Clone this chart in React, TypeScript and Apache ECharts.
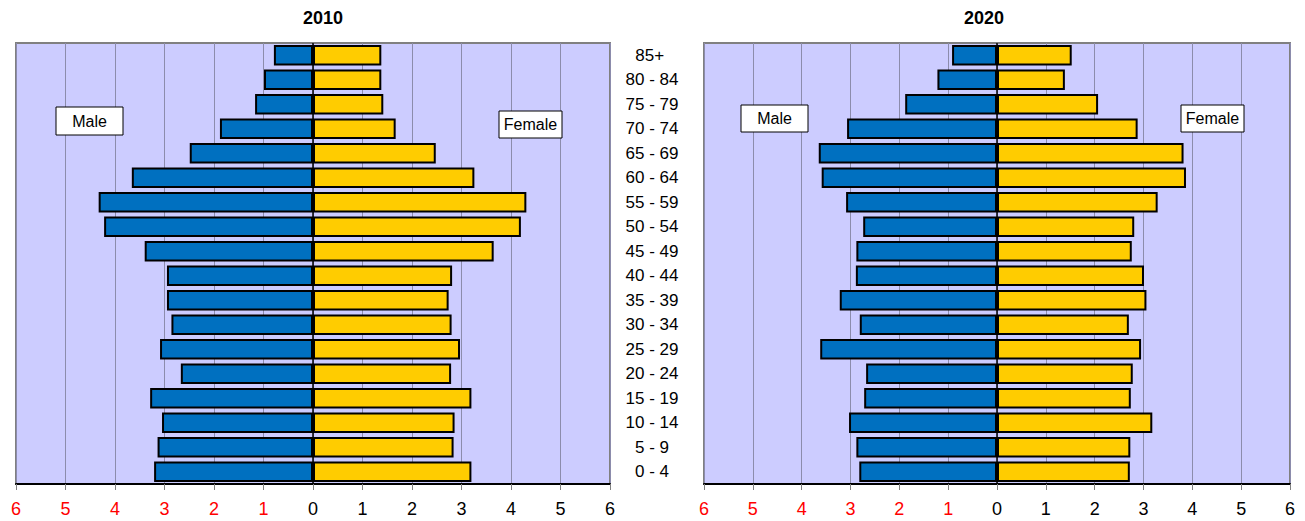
import React, { useEffect, useRef } from "react";
import * as echarts from "echarts";

const ageGroups = ["0 - 4", "5 - 9", "10 - 14", "15 - 19", "20 - 24", "25 - 29", "30 - 34", "35 - 39", "40 - 44", "45 - 49", "50 - 54", "55 - 59", "60 - 64", "65 - 69", "70 - 74", "75 - 79", "80 - 84", "85+ "];
const male2010 = [3.21, 3.14, 3.05, 3.29, 2.67, 3.09, 2.86, 2.95, 2.95, 3.40, 4.22, 4.33, 3.66, 2.49, 1.88, 1.17, 0.99, 0.79];
const female2010 = [3.20, 2.84, 2.86, 3.20, 2.79, 2.97, 2.80, 2.74, 2.81, 3.65, 4.20, 4.31, 3.26, 2.48, 1.67, 1.42, 1.38, 1.38];
const male2020 = [2.82, 2.88, 3.03, 2.72, 2.68, 3.62, 2.81, 3.22, 2.89, 2.88, 2.74, 3.09, 3.59, 3.65, 3.07, 1.88, 1.22, 0.92];
const female2020 = [2.72, 2.73, 3.18, 2.74, 2.78, 2.95, 2.70, 3.06, 3.01, 2.76, 2.81, 3.29, 3.87, 3.82, 2.88, 2.07, 1.39, 1.53];
const titles = ["2010", "2020"];
const maleLabel = "Male";
const femaleLabel = "Female";

const FONT = "'Liberation Sans', Arial, sans-serif";

export default function App() {
  const ref = useRef<HTMLDivElement>(null);
  useEffect(() => {
    if (!ref.current) return;
    const chart = echarts.init(ref.current, null, { renderer: "svg" });
    const grids = [
      { left: 16, top: 43, width: 594, height: 441 },
      { left: 704, top: 43, width: 586, height: 441 },
    ];
    const xAxis = grids.map((_, i) => ({
      type: "value",
      gridIndex: i,
      min: -6,
      max: 6,
      interval: 1,
      axisLine: { show: true, onZero: false, lineStyle: { color: "#000", width: 2 } },
      axisTick: { show: true, length: 6, lineStyle: { color: "#808080", width: 1 } },
      axisLabel: {
        margin: 16,
        fontSize: 18,
        fontFamily: FONT,
        color: (v: any) => (Number(v) < 0 ? "#ff0000" : "#000000"),
        formatter: (v: number) => String(Math.abs(v)),
      },
      splitLine: { show: true, lineStyle: { color: "#8c8cac", width: 1 } },
    }));
    const yAxis = grids.map((_, i) => ({
      type: "category",
      gridIndex: i,
      data: ageGroups,
      axisLine: { show: false, onZero: false },
      axisTick: { show: false },
      splitLine: { show: false },
      axisLabel: {
        show: i === 1,
        margin: 52,
        align: "center",
        fontSize: 17,
        fontFamily: FONT,
        color: "#000",
      },
    }));
    const mk = (name: string, data: number[], sign: number, color: string, idx: number, zero: boolean) => ({
      type: "bar",
      name,
      xAxisIndex: idx,
      yAxisIndex: idx,
      data: data.map((v) => v * sign),
      barCategoryGap: "16%",
      barGap: "-100%",
      itemStyle: { color, borderColor: "#000", borderWidth: 2 },
      z: 2,
      markLine: zero
        ? {
            silent: true,
            symbol: ["none", "none"],
            label: { show: false },
            lineStyle: { color: "#000", width: 1.5, type: "solid" },
            data: [{ xAxis: 0 }],
            z: 5,
          }
        : undefined,
    });
    const boxes = [
      { x: 56, y: 107, w: 67, h: 28, t: maleLabel },
      { x: 499, y: 111, w: 63, h: 27, t: femaleLabel },
      { x: 741, y: 105, w: 67, h: 27, t: maleLabel },
      { x: 1181, y: 105, w: 63, h: 27, t: femaleLabel },
    ];
    const graphic: any[] = [
      { type: "text", x: 323, y: 18, style: { text: titles[0], font: `bold 18px ${FONT}`, fill: "#000", textAlign: "center", textVerticalAlign: "middle" } },
      { type: "text", x: 984, y: 18, style: { text: titles[1], font: `bold 18px ${FONT}`, fill: "#000", textAlign: "center", textVerticalAlign: "middle" } },
    ];
    boxes.forEach((b) => {
      graphic.push({
        type: "rect",
        shape: { x: b.x, y: b.y, width: b.w, height: b.h },
        style: { fill: "#fff", stroke: "#000", lineWidth: 1 },
        z: 100,
      });
      graphic.push({
        type: "text",
        x: b.x + b.w / 2,
        y: b.y + b.h / 2,
        style: { text: b.t, font: `16px ${FONT}`, fill: "#000", textAlign: "center", textVerticalAlign: "middle" },
        z: 101,
      });
    });
    chart.setOption({
      animation: false,
      backgroundColor: "#fff",
      grid: grids.map((g) => ({ ...g, show: true, backgroundColor: "#ccccff", borderColor: "#808080", borderWidth: 2 })),
      xAxis,
      yAxis,
      series: [
        mk("Male 2010", male2010, -1, "#0070c0", 0, true),
        mk("Female 2010", female2010, 1, "#ffcc00", 0, false),
        mk("Male 2020", male2020, -1, "#0070c0", 1, true),
        mk("Female 2020", female2020, 1, "#ffcc00", 1, false),
      ],
      graphic,
    });
    return () => chart.dispose();
  }, []);
  return <div ref={ref} style={{ position: "fixed", left: 0, top: 0, width: 1305, height: 521 }} />;
}
